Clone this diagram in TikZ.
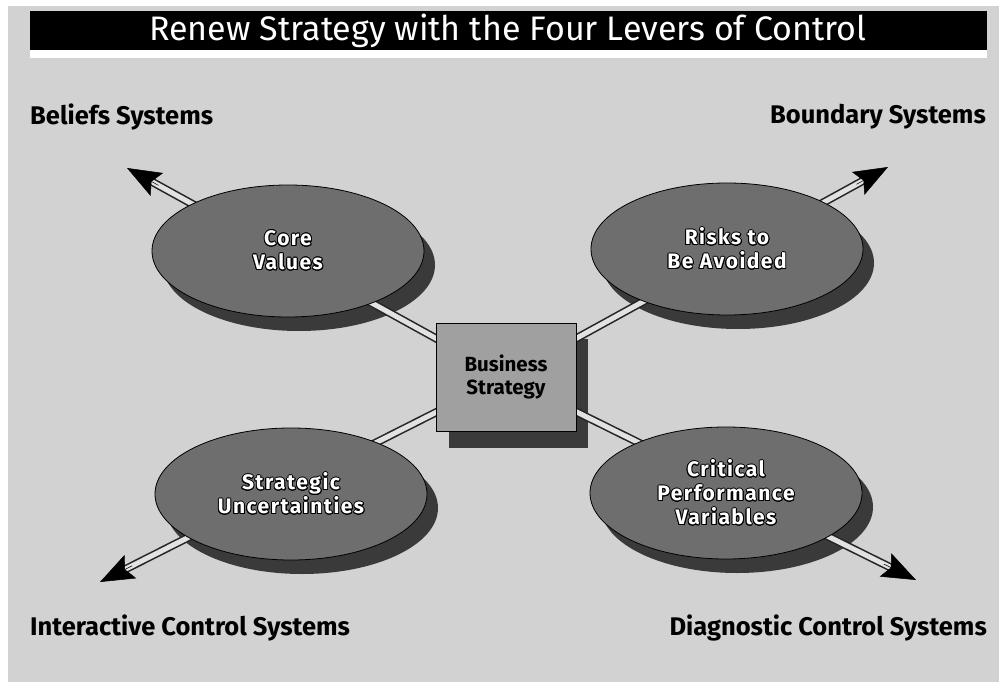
\documentclass[tikz,border=0pt]{standalone}
\usepackage{fontspec}
\setmainfont{Fira Sans}
\usepackage[copies]{contour}
\usetikzlibrary{arrows.meta,calc,shapes.geometric}
\definecolor{panel}{HTML}{D2D2D2}
\definecolor{lever}{HTML}{6E6E6E}
\definecolor{drop}{HTML}{3A3A3A}
\definecolor{core}{HTML}{A0A0A0}
\definecolor{shaftfill}{HTML}{E2E2E2}
\contourlength{0.9pt}
\newcommand{\olt}[1]{\contour{black}{#1}}
\tikzset{
  lever/.style={ellipse,fill=lever,draw=black,line width=0.8pt,minimum width=272pt,minimum height=132pt,text=white,font=\fontsize{21}{24}\selectfont\bfseries\addfontfeature{LetterSpace=7},align=center,inner sep=0pt},
  drop/.style={ellipse,fill=drop,minimum width=272pt,minimum height=132pt},
  shaft/.style={draw=black!85,double=shaftfill,double distance=5pt,line width=1.6pt},
  tip/.style={black,line width=0.5pt,-{Stealth[length=34pt,width=26pt,inset=6pt]}},
  system/.style={font=\fontsize{25.5}{28}\selectfont\bfseries,inner sep=0pt}
}
\begin{document}
\begin{tikzpicture}[x=1pt,y=-1pt]
  \useasboundingbox (0,0) rectangle (999,682);
  \fill[white] (0,0) rectangle (999,682);
  \fill[panel] (8,6) rectangle (999,682);
  % title bar
  \fill[black] (30,11) rectangle (987,50);
  \fill[white] (30,50) rectangle (987,58);
  \node[text=white,font=\fontsize{34}{36}\selectfont] (title) at (508,31) {Renew Strategy with the Four Levers of Control};
  % shadows first
  \foreach \x/\y in {288/251,727/249,291/494,726/493} {
    \node[drop] at (\x+11,\y+14) {};
  }
  \fill[drop] (449,339) rectangle (588,448);
  % arrow ends
  \coordinate (hub) at (506,377);
  \coordinate (tl) at (127,168);
  \coordinate (tr) at (888,167);
  \coordinate (bl) at (100,582);
  \coordinate (br) at (916,580);
  \foreach \t in {tl,tr,bl,br} {
    \draw[shaft] (hub) -- ($(\t)!26pt!(hub)$);
    \draw[tip] ($(\t)!36pt!(hub)$) -- (\t);
  }
  % levers
  \node[lever] (values) at (288,251) {\olt{Core}\\\olt{Values}};
  \node[lever] (risks) at (727,249) {\olt{Risks to}\\\olt{Be Avoided}};
  \node[lever] (uncert) at (291,494) {\olt{Strategic}\\\olt{Uncertainties}};
  \node[lever] (vars) at (726,493) {\olt{Critical}\\\olt{Performance}\\\olt{Variables}};
  \node[fill=core,draw=black,line width=0.8pt,minimum width=140pt,minimum height=108pt,align=center,font=\fontsize{20.5}{23}\selectfont\bfseries] (strategy) at (506,377) {Business\\Strategy};
  % system labels
  \node[system,anchor=west] (beliefs) at (30,117) {Beliefs Systems};
  \node[system,anchor=east] (boundary) at (986,117) {Boundary Systems};
  \node[system,anchor=west] (interactive) at (30,628) {Interactive Control Systems};
  \node[system,anchor=east] (diagnostic) at (987,628) {Diagnostic Control Systems};
\end{tikzpicture}
\end{document}
